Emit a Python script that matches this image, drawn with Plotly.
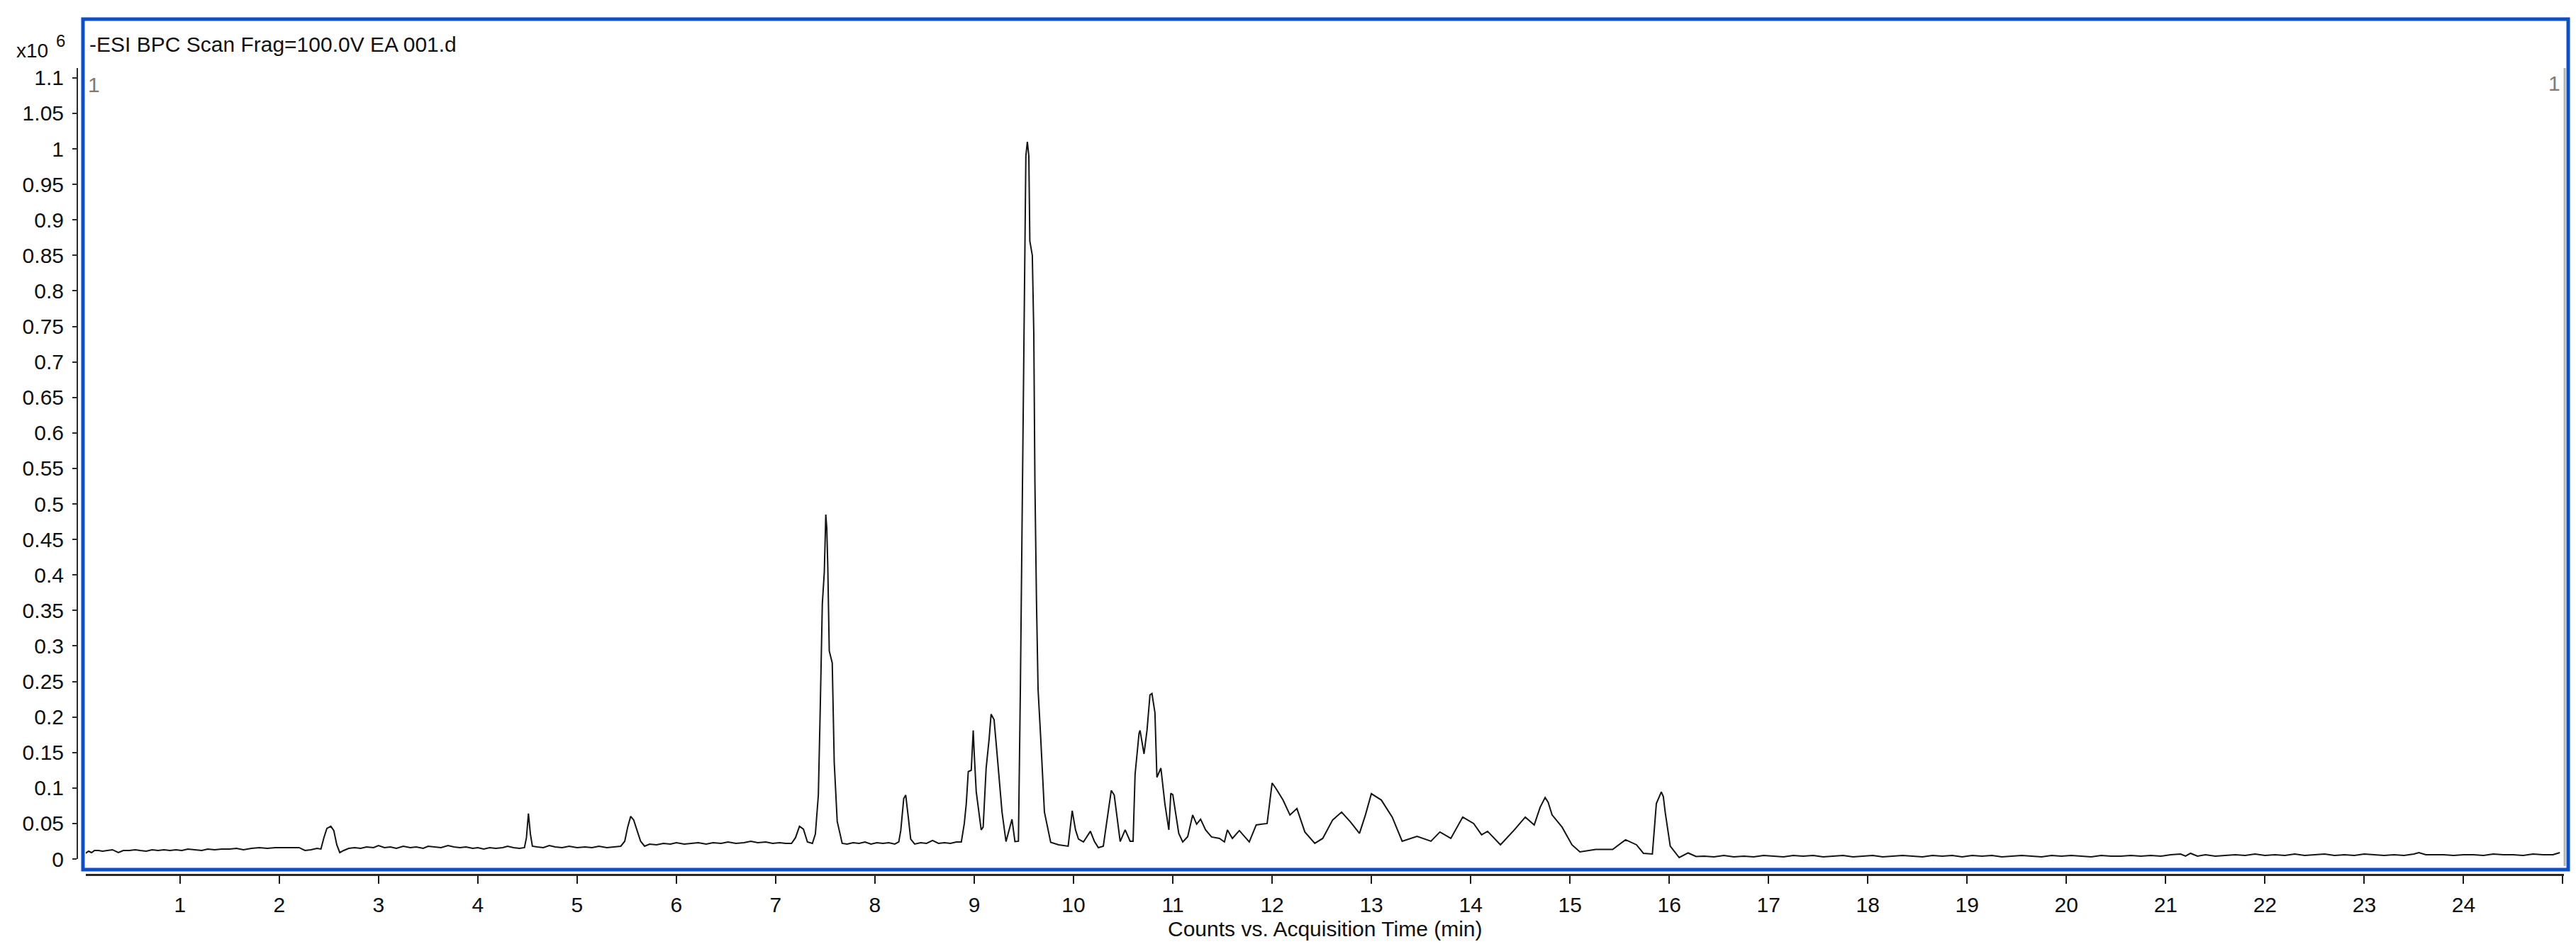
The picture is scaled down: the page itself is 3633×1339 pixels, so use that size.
import plotly.graph_objects as go

# ---- data (time in min, counts in x10^6) ----
time_min = [
    0.05, 0.08, 0.11, 0.14, 0.18, 0.22, 0.27, 0.32, 0.38, 0.43, 0.49, 0.55, 0.60, 0.66, 0.72, 0.78, 0.84, 0.90, 0.96, 1.02,
    1.08, 1.15, 1.22, 1.28, 1.35, 1.42, 1.50, 1.57, 1.64, 1.72, 1.80, 1.88, 1.96, 2.04, 2.12, 2.20, 2.26, 2.32, 2.38,
    2.42, 2.45, 2.48, 2.52, 2.55, 2.58, 2.61, 2.65, 2.70,
    2.76, 2.82, 2.88, 2.95, 3.00, 3.06, 3.12, 3.18, 3.25, 3.32, 3.38, 3.45, 3.50, 3.57, 3.63, 3.70, 3.76, 3.82, 3.88, 3.95,
    4.00, 4.06, 4.12, 4.18, 4.25, 4.30, 4.36, 4.42, 4.47,
    4.49, 4.51, 4.53, 4.55, 4.60, 4.66, 4.72, 4.78, 4.85, 4.92, 5.00, 5.08, 5.15, 5.22, 5.30, 5.38, 5.44,
    5.48, 5.51, 5.54, 5.57, 5.60, 5.64, 5.68, 5.73,
    5.80, 5.87, 5.94, 6.00, 6.08, 6.15, 6.22, 6.30, 6.37, 6.45, 6.52, 6.60, 6.68, 6.75, 6.82, 6.90, 6.97, 7.04, 7.10, 7.16,
    7.20, 7.24, 7.28, 7.32, 7.37,
    7.40, 7.43, 7.45, 7.47, 7.49, 7.505, 7.515, 7.525, 7.54, 7.57, 7.59, 7.62, 7.67,
    7.72, 7.78, 7.84, 7.90, 7.96, 8.02, 8.08, 8.14, 8.20, 8.24,
    8.26, 8.29, 8.31, 8.335, 8.36, 8.40, 8.46, 8.52, 8.58, 8.64, 8.70, 8.76, 8.82, 8.87,
    8.90, 8.92, 8.94, 8.97, 8.99, 9.00, 9.02, 9.07, 9.09, 9.12, 9.15, 9.17, 9.20, 9.23, 9.28, 9.32, 9.36, 9.38, 9.41, 9.445,
    9.465, 9.485, 9.500, 9.507, 9.520, 9.535, 9.550, 9.560, 9.585, 9.600, 9.611, 9.627, 9.643, 9.670, 9.707, 9.770, 9.850, 9.946,
    9.987, 10.02, 10.05, 10.10, 10.17, 10.21, 10.25, 10.30, 10.33, 10.38, 10.41, 10.44, 10.47, 10.52, 10.57, 10.60,
    10.62, 10.66, 10.67, 10.71, 10.74, 10.77, 10.79, 10.82, 10.84, 10.88, 10.92, 10.96, 10.98, 11.00, 11.06, 11.10,
    11.15, 11.20, 11.24, 11.28, 11.33, 11.39, 11.47, 11.52, 11.55, 11.60, 11.67, 11.77, 11.84, 11.95,
    12.00, 12.04, 12.11, 12.18, 12.25, 12.33, 12.43, 12.51, 12.61, 12.70, 12.79, 12.88, 12.94,
    13.00, 13.10, 13.21, 13.31, 13.46, 13.60, 13.69, 13.80, 13.92, 14.03, 14.11, 14.17, 14.30, 14.44, 14.55, 14.64,
    14.70, 14.75, 14.78, 14.82, 14.92, 15.02, 15.10, 15.26, 15.43, 15.56, 15.67, 15.74, 15.83,
    15.87, 15.92, 15.94, 15.96, 16.01, 16.10, 16.19, 16.27,
    16.35, 16.45, 16.55, 16.65, 16.75, 16.85, 16.95, 17.05, 17.15, 17.25, 17.35, 17.45, 17.55, 17.65, 17.75, 17.85, 17.95,
    18.05, 18.15, 18.25, 18.35, 18.45, 18.55, 18.65, 18.75, 18.85, 18.95, 19.05, 19.15, 19.25, 19.35, 19.45, 19.55, 19.65,
    19.75, 19.85, 19.95, 20.05, 20.15, 20.25, 20.35, 20.45, 20.55, 20.65, 20.75, 20.85, 20.95, 21.05, 21.15, 21.20, 21.25,
    21.32, 21.40, 21.50, 21.60, 21.70, 21.80, 21.90, 22.00, 22.10, 22.20, 22.30, 22.40, 22.50, 22.60, 22.70, 22.80, 22.90,
    23.00, 23.10, 23.20, 23.30, 23.40, 23.50, 23.55, 23.62, 23.70, 23.80, 23.90, 24.00, 24.10, 24.20, 24.30, 24.40, 24.50,
    24.60, 24.70, 24.80, 24.90, 24.97,
]

counts_e6 = [
    0.008, 0.011, 0.009, 0.012, 0.012, 0.011, 0.012, 0.013, 0.009, 0.012, 0.012, 0.013, 0.012, 0.011, 0.013, 0.012, 0.013, 0.012, 0.013, 0.012,
    0.014, 0.013, 0.012, 0.014, 0.013, 0.014, 0.014, 0.015, 0.013, 0.015, 0.016, 0.015, 0.016, 0.016, 0.016, 0.016, 0.012, 0.013, 0.015,
    0.014, 0.030, 0.043, 0.046, 0.040, 0.020, 0.009, 0.012, 0.015,
    0.016, 0.015, 0.017, 0.016, 0.019, 0.016, 0.017, 0.015, 0.018, 0.016, 0.017, 0.015, 0.018, 0.017, 0.016, 0.019, 0.017, 0.016, 0.017, 0.015,
    0.016, 0.014, 0.016, 0.015, 0.016, 0.018, 0.016, 0.015, 0.016,
    0.030, 0.064, 0.035, 0.018, 0.017, 0.016, 0.019, 0.017, 0.016, 0.018, 0.016, 0.017, 0.016, 0.018, 0.016, 0.017, 0.018,
    0.025, 0.045, 0.060, 0.055, 0.042, 0.025, 0.018, 0.021,
    0.020, 0.022, 0.021, 0.023, 0.021, 0.022, 0.023, 0.021, 0.023, 0.022, 0.024, 0.022, 0.023, 0.025, 0.023, 0.024, 0.022, 0.023, 0.022, 0.022,
    0.030, 0.046, 0.042, 0.024, 0.022,
    0.035, 0.090, 0.218, 0.359, 0.404, 0.485, 0.466, 0.412, 0.293, 0.276, 0.136, 0.053, 0.022,
    0.021, 0.023, 0.022, 0.024, 0.021, 0.023, 0.022, 0.023, 0.021, 0.024,
    0.040, 0.085, 0.090, 0.060, 0.028, 0.021, 0.023, 0.022, 0.026, 0.022, 0.023, 0.022, 0.024, 0.024,
    0.050, 0.078, 0.123, 0.125, 0.181, 0.148, 0.095, 0.041, 0.045, 0.128, 0.169, 0.204, 0.196, 0.148, 0.066, 0.0245, 0.045, 0.056, 0.0245, 0.025,
    0.243, 0.540, 0.740, 0.870, 0.990, 1.010, 0.990, 0.870, 0.850, 0.740, 0.532, 0.363, 0.239, 0.169, 0.066, 0.0235, 0.020, 0.018,
    0.068, 0.041, 0.028, 0.024, 0.039, 0.025, 0.016, 0.018, 0.049, 0.0965, 0.090, 0.058, 0.0245, 0.041, 0.025, 0.025,
    0.119, 0.177, 0.181, 0.148, 0.181, 0.231, 0.233, 0.206, 0.115, 0.128, 0.078, 0.041, 0.0925, 0.0905, 0.036, 0.024,
    0.0315, 0.062, 0.049, 0.056, 0.041, 0.031, 0.029, 0.024, 0.041, 0.029, 0.040, 0.024, 0.048, 0.050,
    0.107, 0.099, 0.083, 0.062, 0.071, 0.038, 0.022, 0.029, 0.055, 0.066, 0.052, 0.036, 0.062,
    0.092, 0.083, 0.059, 0.025, 0.032, 0.025, 0.038, 0.029, 0.059, 0.050, 0.034, 0.039, 0.020, 0.041, 0.059, 0.048,
    0.073, 0.0865, 0.080, 0.062, 0.045, 0.020, 0.010, 0.0135, 0.0135, 0.027, 0.020, 0.008, 0.007,
    0.078, 0.0945, 0.088, 0.065, 0.018, 0.002, 0.0085, 0.0035,
    0.004, 0.003, 0.005, 0.003, 0.004, 0.003, 0.005, 0.004, 0.003, 0.005, 0.004, 0.005, 0.003, 0.004, 0.005, 0.003, 0.004,
    0.005, 0.003, 0.004, 0.005, 0.004, 0.003, 0.005, 0.004, 0.005, 0.003, 0.005, 0.004, 0.005, 0.003, 0.004, 0.005, 0.004,
    0.003, 0.005, 0.004, 0.005, 0.004, 0.003, 0.005, 0.004, 0.004, 0.005, 0.004, 0.005, 0.004, 0.006, 0.007, 0.004, 0.008,
    0.004, 0.006, 0.004, 0.005, 0.006, 0.005, 0.007, 0.005, 0.006, 0.005, 0.007, 0.005, 0.006, 0.007, 0.005, 0.006, 0.005,
    0.007, 0.006, 0.005, 0.006, 0.005, 0.007, 0.009, 0.006, 0.006, 0.006, 0.005, 0.006, 0.006, 0.005, 0.007, 0.006, 0.006,
    0.005, 0.007, 0.006, 0.006, 0.009,
]

x_tick_vals = [1, 2, 3, 4, 5, 6, 7, 8, 9, 10, 11, 12, 13, 14, 15, 16, 17, 18, 19, 20, 21, 22, 23, 24, 25]
x_tick_text = ["1", "2", "3", "4", "5", "6", "7", "8", "9", "10", "11", "12", "13", "14", "15", "16",
               "17", "18", "19", "20", "21", "22", "23", "24", ""]
y_tick_vals = [0, 0.05, 0.1, 0.15, 0.2, 0.25, 0.3, 0.35, 0.4, 0.45, 0.5, 0.55, 0.6, 0.65, 0.7, 0.75,
               0.8, 0.85, 0.9, 0.95, 1.0, 1.05, 1.1]
y_tick_text = ["0", "0.05", "0.1", "0.15", "0.2", "0.25", "0.3", "0.35", "0.4", "0.45", "0.5", "0.55",
               "0.6", "0.65", "0.7", "0.75", "0.8", "0.85", "0.9", "0.95", "1", "1.05", "1.1"]

title_text = "-ESI BPC Scan Frag=100.0V EA 001.d"
x_title = "Counts vs. Acquisition Time (min)"

FONT = "Liberation Sans, Arial, sans-serif"
W, H = 3633, 1339
ML, MR, MT, MB = 101, 25, 88, 113
PW = W - ML - MR
PH = H - MT - MB


def px(xp):
    return (xp - ML) / PW


def py(yp):
    return (H - MB - yp) / PH


fig = go.Figure()
fig.add_trace(go.Scatter(
    x=time_min, y=counts_e6, mode="lines",
    line=dict(color="#141414", width=2),
    hoverinfo="skip", showlegend=False,
))

fig.update_layout(
    width=W, height=H,
    margin=dict(l=ML, r=MR, t=MT, b=MB, pad=0),
    paper_bgcolor="white", plot_bgcolor="white",
    font=dict(family=FONT, size=30, color="black"),
    showlegend=False,
    xaxis=dict(
        domain=[px(113), 1.0], anchor="free", position=0,
        range=[0.052, 25.011],
        showgrid=False, zeroline=False,
        showline=True, linecolor="#2e261e", linewidth=3,
        ticks="outside", ticklen=11, tickwidth=2, tickcolor="#1a1a1a",
        tickvals=x_tick_vals, ticktext=x_tick_text,
        tickfont=dict(family=FONT, size=30, color="#111111"),
        ticklabelstandoff=4,
    ),
    yaxis=dict(
        domain=[py(1204), 1.0], anchor="free", position=0,
        range=[0, 1.1138],
        showgrid=False, zeroline=False,
        showline=True, linecolor="#2b2b2b", linewidth=2,
        ticks="outside", ticklen=6, tickwidth=2, tickcolor="#2b2b2b",
        tickvals=y_tick_vals, ticktext=y_tick_text,
        tickfont=dict(family=FONT, size=30, color="#111111"),
        ticklabelstandoff=6,
    ),
)

# blue selection frame and right gray border
fig.add_shape(type="rect", xref="paper", yref="paper",
              x0=px(109), x1=px(3614), y0=py(1219), y1=py(19),
              line=dict(color="#0a4fd0", width=5), fillcolor="rgba(0,0,0,0)", layer="above")
fig.add_shape(type="line", xref="paper", yref="paper",
              x0=px(3609), x1=px(3609), y0=py(88), y1=py(1214),
              line=dict(color="#b4b4ac", width=3))

annots = [
    dict(text=title_text, x=px(116), y=py(55), xanchor="left", yanchor="middle", size=30, color="#111111"),
    dict(text="x10", x=px(13), y=py(63), xanchor="left", yanchor="middle", size=28, color="#111111"),
    dict(text="6", x=px(77), y=py(50), xanchor="center", yanchor="middle", size=24, color="#111111"),
    dict(text="1", x=px(124), y=py(112), xanchor="center", yanchor="middle", size=30, color="#8a786c"),
    dict(text="1", x=px(3594), y=py(110), xanchor="center", yanchor="middle", size=30, color="#8a786c"),
    dict(text=x_title, x=px(1860), y=py(1302), xanchor="center", yanchor="middle", size=30, color="#111111"),
]
for a in annots:
    fig.add_annotation(text=a["text"], x=a["x"], y=a["y"], xref="paper", yref="paper",
                       xanchor=a["xanchor"], yanchor=a["yanchor"], showarrow=False,
                       font=dict(family=FONT, size=a["size"], color=a["color"]))

fig.write_html("out.html")
